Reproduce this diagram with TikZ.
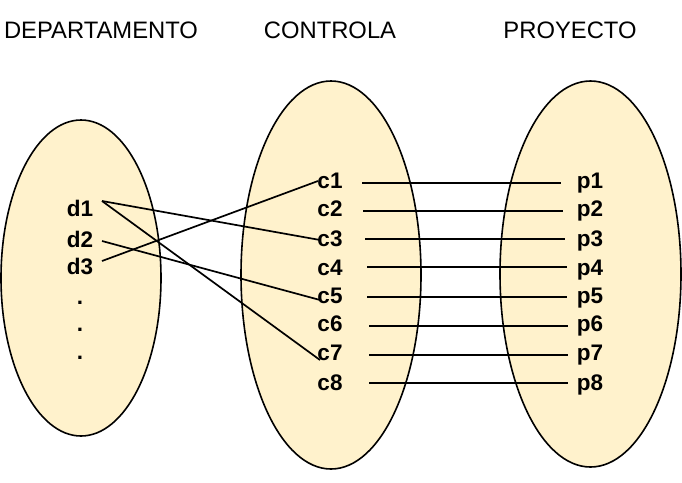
\documentclass[tikz,border=0pt]{standalone}
\usepackage{fontspec}
\setmainfont{Liberation Sans}
\usetikzlibrary{shapes.geometric}
\definecolor{setfill}{HTML}{FFF2CC}
\begin{document}
\begin{tikzpicture}[x=1pt,y=-1pt,
  setell/.style={ellipse, draw=black, fill=setfill, line width=1.6pt, inner sep=0pt},
  title/.style={font=\fontsize{23.8}{28}\selectfont, inner sep=0pt, anchor=base},
  lbl/.style={font=\fontsize{22.5}{27}\selectfont\bfseries, inner sep=0pt, anchor=base},
  dotlbl/.style={font=\fontsize{22.5}{27}\selectfont\bfseries, inner sep=0pt, anchor=base},
  link/.style={draw=black, line width=1.7pt}]
\useasboundingbox (0,0) rectangle (682,482);
% sets
\node[setell, minimum width=160pt, minimum height=316pt] (dep) at (81,278) {};
\node[setell, minimum width=180pt, minimum height=388pt] (con) at (331,275) {};
\node[setell, minimum width=181pt, minimum height=386pt] (pro) at (590.5,274) {};
% titles
\node[title] (tdep) at (101,38) {DEPARTAMENTO};
\node[title] (tcon) at (330,38) {CONTROLA};
\node[title] (tpro) at (570,38) {PROYECTO};
% department labels
\node[lbl] (d1) at (80,216) {d1};
\node[lbl] (d2) at (80,247) {d2};
\node[lbl] (d3) at (80,274) {d3};
\node[dotlbl] (dot1) at (80,304) {.};
\node[dotlbl] (dot2) at (80,331) {.};
\node[dotlbl] (dot3) at (80,359) {.};
% controla and proyecto labels
\foreach \i/\y in {1/188,2/216,3/246,4/275,5/303,6/331,7/360,8/390}{
  \node[lbl] (c\i) at (330,\y) {c\i};
  \node[lbl] (p\i) at (590,\y) {p\i};
}
% connector end points
\coordinate (d1r) at (102,201);
\coordinate (d2r) at (102,241);
\coordinate (d3r) at (102,261);
\coordinate (c1l) at (318,181);
\coordinate (c3l) at (320,240);
\coordinate (c5l) at (320,300);
\coordinate (c7l) at (320,360);
\foreach \i/\y/\xa/\xb in {1/183/362/561,2/211/363/563,3/239/365/565,4/267/367/567,5/297/367/567,6/326/369/568,7/355/369/568,8/383/369/568}{
  \coordinate (c\i r) at (\xa,\y);
  \coordinate (p\i l) at (\xb,\y);
}
% links department - controla
\draw[link] (d1r) -- (c3l);
\draw[link] (d1r) -- (c7l);
\draw[link] (d2r) -- (c5l);
\draw[link] (d3r) -- (c1l);
% links controla - proyecto
\foreach \i in {1,...,8}{
  \draw[link] (c\i r) -- (p\i l);
}
\end{tikzpicture}
\end{document}
